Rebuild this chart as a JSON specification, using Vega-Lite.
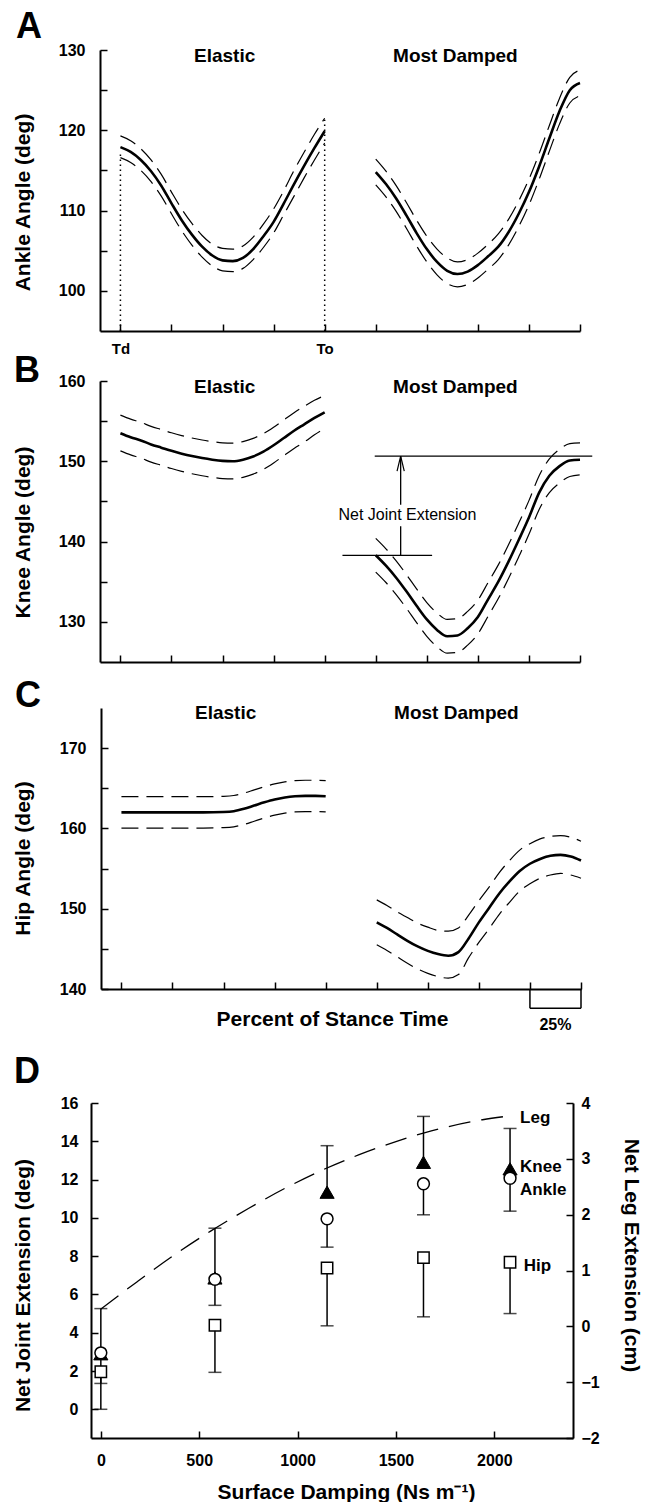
{
"$schema": "https://vega.github.io/schema/vega-lite/v6.json",
"padding": {"left": 11, "top": 9, "right": 12, "bottom": 0},
"config": {
  "font": "Liberation Sans",
  "view": {"stroke": null},
  "axis": {"labelFont": "Liberation Sans", "titleFont": "Liberation Sans", "labelFontWeight": "bold", "titleFontWeight": "bold", "labelColor": "black", "titleColor": "black", "domainColor": "black", "tickColor": "black", "domainWidth": 2, "tickWidth": 1.5, "grid": false, "labelFontSize": 16, "titleFontSize": 21, "labelOverlap": false, "labelFlush": false},
  "text": {"font": "Liberation Sans", "color": "black"},
  "title": {"font": "Liberation Sans", "color": "black", "fontWeight": "bold", "fontSize": 36, "anchor": "start", "frame": "group"}
},
"datasets": {
  "A": [
    {"c":"E","x":0,"m":117.9,"hi":119.3,"lo":116.6},{"c":"E","x":5,"m":117.3,"hi":118.7,"lo":116.0},{"c":"E","x":10,"m":116.3,"hi":117.7,"lo":115.0},{"c":"E","x":15,"m":114.9,"hi":116.3,"lo":113.6},{"c":"E","x":20,"m":113.1,"hi":114.5,"lo":111.8},{"c":"E","x":25,"m":110.9,"hi":112.3,"lo":109.6},{"c":"E","x":30,"m":108.8,"hi":110.2,"lo":107.5},{"c":"E","x":35,"m":107.0,"hi":108.4,"lo":105.7},{"c":"E","x":40,"m":105.5,"hi":106.9,"lo":104.2},{"c":"E","x":45,"m":104.4,"hi":105.8,"lo":103.1},{"c":"E","x":50,"m":103.8,"hi":105.3,"lo":102.5},{"c":"E","x":55,"m":103.7,"hi":105.2,"lo":102.4},{"c":"E","x":60,"m":104.1,"hi":105.6,"lo":102.8},{"c":"E","x":65,"m":105.2,"hi":106.7,"lo":103.9},{"c":"E","x":70,"m":106.8,"hi":108.3,"lo":105.4},{"c":"E","x":75,"m":108.6,"hi":110.2,"lo":107.2},{"c":"E","x":80,"m":110.9,"hi":112.5,"lo":109.5},{"c":"E","x":85,"m":113.3,"hi":115.0,"lo":111.8},{"c":"E","x":90,"m":115.6,"hi":117.3,"lo":114.1},{"c":"E","x":95,"m":117.8,"hi":119.5,"lo":116.3},{"c":"E","x":100,"m":119.9,"hi":121.5,"lo":118.4},
    {"c":"D","x":125,"m":114.8,"hi":116.4,"lo":113.2},{"c":"D","x":130,"m":113.3,"hi":114.9,"lo":111.7},{"c":"D","x":135,"m":111.5,"hi":113.1,"lo":109.9},{"c":"D","x":140,"m":109.4,"hi":111.0,"lo":107.8},{"c":"D","x":145,"m":107.2,"hi":108.8,"lo":105.6},{"c":"D","x":150,"m":105.2,"hi":106.8,"lo":103.6},{"c":"D","x":155,"m":103.6,"hi":105.2,"lo":102.0},{"c":"D","x":160,"m":102.5,"hi":104.1,"lo":100.9},{"c":"D","x":165,"m":102.1,"hi":103.6,"lo":100.5},{"c":"D","x":170,"m":102.4,"hi":103.9,"lo":100.8},{"c":"D","x":175,"m":103.2,"hi":104.7,"lo":101.6},{"c":"D","x":180,"m":104.3,"hi":105.8,"lo":102.7},{"c":"D","x":185,"m":105.5,"hi":107.1,"lo":103.9},{"c":"D","x":190,"m":107.3,"hi":108.9,"lo":105.7},{"c":"D","x":195,"m":109.6,"hi":111.2,"lo":108.0},{"c":"D","x":200,"m":112.3,"hi":113.9,"lo":110.7},{"c":"D","x":205,"m":115.5,"hi":117.1,"lo":113.9},{"c":"D","x":210,"m":119.0,"hi":120.6,"lo":117.4},{"c":"D","x":215,"m":122.4,"hi":124.0,"lo":120.8},{"c":"D","x":220,"m":125.0,"hi":126.6,"lo":123.4},{"c":"D","x":225,"m":125.9,"hi":127.5,"lo":124.3}
  ],
  "B": [
    {"c":"E","x":0,"m":153.5,"hi":155.75,"lo":151.3},{"c":"E","x":5,"m":153.0,"hi":155.25,"lo":150.8},{"c":"E","x":10,"m":152.6,"hi":154.85,"lo":150.4},{"c":"E","x":15,"m":152.1,"hi":154.35,"lo":149.9},{"c":"E","x":20,"m":151.7,"hi":153.95,"lo":149.5},{"c":"E","x":25,"m":151.3,"hi":153.55,"lo":149.1},{"c":"E","x":30,"m":150.95,"hi":153.2,"lo":148.75},{"c":"E","x":35,"m":150.65,"hi":152.9,"lo":148.45},{"c":"E","x":40,"m":150.4,"hi":152.65,"lo":148.2},{"c":"E","x":45,"m":150.2,"hi":152.45,"lo":148.0},{"c":"E","x":50,"m":150.05,"hi":152.3,"lo":147.85},{"c":"E","x":55,"m":150.0,"hi":152.25,"lo":147.8},{"c":"E","x":60,"m":150.2,"hi":152.45,"lo":148.0},{"c":"E","x":65,"m":150.6,"hi":152.85,"lo":148.4},{"c":"E","x":70,"m":151.2,"hi":153.45,"lo":149.0},{"c":"E","x":75,"m":152.0,"hi":154.25,"lo":149.8},{"c":"E","x":80,"m":152.9,"hi":155.15,"lo":150.7},{"c":"E","x":85,"m":153.8,"hi":156.05,"lo":151.6},{"c":"E","x":90,"m":154.6,"hi":156.85,"lo":152.4},{"c":"E","x":95,"m":155.4,"hi":157.6,"lo":153.3},{"c":"E","x":100,"m":156.1,"hi":158.2,"lo":154.1},
    {"c":"D","x":125,"m":138.3,"hi":140.4,"lo":136.2},{"c":"D","x":130,"m":137.0,"hi":139.1,"lo":134.9},{"c":"D","x":135,"m":135.5,"hi":137.6,"lo":133.4},{"c":"D","x":140,"m":133.8,"hi":135.9,"lo":131.7},{"c":"D","x":145,"m":132.0,"hi":134.1,"lo":129.9},{"c":"D","x":150,"m":130.3,"hi":132.4,"lo":128.2},{"c":"D","x":155,"m":129.0,"hi":131.1,"lo":126.9},{"c":"D","x":160,"m":128.2,"hi":130.3,"lo":126.1},{"c":"D","x":165,"m":128.3,"hi":130.4,"lo":126.2},{"c":"D","x":170,"m":129.2,"hi":131.3,"lo":127.1},{"c":"D","x":175,"m":130.6,"hi":132.7,"lo":128.5},{"c":"D","x":180,"m":132.8,"hi":134.9,"lo":130.7},{"c":"D","x":185,"m":135.0,"hi":137.1,"lo":132.9},{"c":"D","x":190,"m":137.5,"hi":139.6,"lo":135.4},{"c":"D","x":195,"m":140.2,"hi":142.3,"lo":138.1},{"c":"D","x":200,"m":143.0,"hi":145.1,"lo":140.9},{"c":"D","x":205,"m":146.1,"hi":148.2,"lo":144.0},{"c":"D","x":210,"m":148.2,"hi":150.3,"lo":146.1},{"c":"D","x":215,"m":149.4,"hi":151.5,"lo":147.3},{"c":"D","x":220,"m":150.1,"hi":152.2,"lo":148.1},{"c":"D","x":225,"m":150.2,"hi":152.3,"lo":148.3}
  ],
  "C": [
    {"c":"E","x":0,"m":162.0,"hi":163.95,"lo":160.05},{"c":"E","x":10,"m":162.0,"hi":163.95,"lo":160.05},{"c":"E","x":20,"m":162.0,"hi":163.95,"lo":160.05},{"c":"E","x":30,"m":162.0,"hi":163.95,"lo":160.05},{"c":"E","x":40,"m":162.0,"hi":163.95,"lo":160.05},{"c":"E","x":50,"m":162.05,"hi":164.0,"lo":160.1},{"c":"E","x":55,"m":162.15,"hi":164.1,"lo":160.2},{"c":"E","x":60,"m":162.45,"hi":164.4,"lo":160.5},{"c":"E","x":65,"m":162.85,"hi":164.8,"lo":160.9},{"c":"E","x":70,"m":163.25,"hi":165.2,"lo":161.3},{"c":"E","x":75,"m":163.6,"hi":165.55,"lo":161.65},{"c":"E","x":80,"m":163.85,"hi":165.8,"lo":161.9},{"c":"E","x":85,"m":164.0,"hi":165.95,"lo":162.05},{"c":"E","x":90,"m":164.05,"hi":166.0,"lo":162.1},{"c":"E","x":95,"m":164.05,"hi":166.0,"lo":162.1},{"c":"E","x":100,"m":164.0,"hi":165.95,"lo":162.05},
    {"c":"D","x":125,"m":148.3,"hi":151.1,"lo":145.5},{"c":"D","x":130,"m":147.6,"hi":150.4,"lo":144.8},{"c":"D","x":135,"m":146.8,"hi":149.6,"lo":144.0},{"c":"D","x":140,"m":146.0,"hi":148.9,"lo":143.2},{"c":"D","x":145,"m":145.3,"hi":148.2,"lo":142.5},{"c":"D","x":150,"m":144.75,"hi":147.7,"lo":141.95},{"c":"D","x":155,"m":144.35,"hi":147.3,"lo":141.55},{"c":"D","x":160,"m":144.15,"hi":147.2,"lo":141.35},{"c":"D","x":165,"m":144.6,"hi":147.6,"lo":141.8},{"c":"D","x":170,"m":146.3,"hi":149.2,"lo":143.9},{"c":"D","x":175,"m":148.3,"hi":151.0,"lo":145.8},{"c":"D","x":180,"m":150.1,"hi":152.7,"lo":147.5},{"c":"D","x":185,"m":151.9,"hi":154.5,"lo":149.3},{"c":"D","x":190,"m":153.4,"hi":156.0,"lo":150.8},{"c":"D","x":195,"m":154.7,"hi":157.3,"lo":152.2},{"c":"D","x":200,"m":155.6,"hi":158.1,"lo":153.1},{"c":"D","x":205,"m":156.2,"hi":158.7,"lo":153.8},{"c":"D","x":210,"m":156.6,"hi":159.0,"lo":154.2},{"c":"D","x":215,"m":156.7,"hi":159.1,"lo":154.4},{"c":"D","x":220,"m":156.5,"hi":158.9,"lo":154.2},{"c":"D","x":225,"m":156.0,"hi":158.4,"lo":153.8}
  ],
  "D": [
    {"s":"Knee","x":0,"v":2.9,"e":5.26},{"s":"Knee","x":580,"v":6.86,"e":9.46},{"s":"Knee","x":1150,"v":11.34,"e":13.77},{"s":"Knee","x":1640,"v":12.9,"e":15.3},{"s":"Knee","x":2080,"v":12.56,"e":14.67},
    {"s":"Ankle","x":0,"v":2.95,"e":1.35},{"s":"Ankle","x":580,"v":6.79,"e":5.43},{"s":"Ankle","x":1150,"v":9.95,"e":8.47},{"s":"Ankle","x":1640,"v":11.78,"e":10.16},{"s":"Ankle","x":2080,"v":12.07,"e":10.35},
    {"s":"Hip","x":0,"v":1.96,"e":0.0},{"s":"Hip","x":580,"v":4.39,"e":1.93},{"s":"Hip","x":1150,"v":7.38,"e":4.36},{"s":"Hip","x":1640,"v":7.92,"e":4.83},{"s":"Hip","x":2080,"v":7.68,"e":5.0}
  ],
  "leg": [
    {"x":0,"y":0.31},{"x":185,"y":0.8},{"x":370,"y":1.27},{"x":560,"y":1.71},{"x":750,"y":2.11},{"x":935,"y":2.47},{"x":1120,"y":2.79},{"x":1310,"y":3.07},{"x":1500,"y":3.31},{"x":1680,"y":3.5},{"x":1940,"y":3.7},{"x":2080,"y":3.77}
  ],
  "none": []
},
"columns": 2,
"spacing": {"row": -3, "column": 0},
"align": "none",
"bounds": "full",
"concat": [
  {"width": 1, "height": 1, "data": {"name": "none"}, "mark": "point"},
  {
    "title": {"text": "A", "dx": -84, "offset": -4},
    "width": 480, "height": 281,
    "data": {"name": "A"},
    "encoding": {
      "x": {"field": "x", "type": "quantitative", "scale": {"domain": [-10, 225], "nice": false, "zero": false},
        "axis": {"values": [0,25,50,75,100,125,150,175,200,225], "tickSize": -7, "labelExpr": "datum.value == 0 ? 'Td' : datum.value == 100 ? 'To' : ''", "labelPadding": 17, "labelFontSize": 15, "title": null}},
      "y": {"field": "y", "type": "quantitative", "scale": {"domain": [95, 130], "nice": false, "zero": false},
        "axis": {"values": [100,105,110,115,120,125,130], "labelExpr": "datum.value % 10 == 0 ? datum.label : ''", "tickSize": -7, "labelPadding": 22, "title": "Ankle Angle (deg)", "titleX": -77, "titleY": 152, "titleAngle": 270, "titleBaseline": "middle", "titleAlign": "center"}}
    },
    "layer": [
      {"transform": [{"fold": ["hi", "lo"], "as": ["k", "y"]}], "mark": {"type": "line", "color": "black", "strokeWidth": 1.2, "strokeDash": [17, 8], "interpolate": "monotone"}, "encoding": {"detail": [{"field": "c"}, {"field": "k"}]}},
      {"transform": [{"fold": ["m"], "as": ["k", "y"]}], "mark": {"type": "line", "color": "black", "strokeWidth": 2.6, "interpolate": "monotone"}, "encoding": {"detail": {"field": "c"}}},
      {"data": {"values": [{"x": 0, "y": 95, "y2": 117}, {"x": 100, "y": 95, "y2": 121.3}]}, "mark": {"type": "rule", "color": "black", "strokeWidth": 1.5, "strokeDash": [1.5, 3.5]}, "encoding": {"y2": {"field": "y2"}}},
      {"data": {"values": [{"x": 51, "y": 129.2, "t": "Elastic"}, {"x": 164, "y": 129.2, "t": "Most Damped"}]}, "mark": {"type": "text", "fontSize": 19, "fontWeight": "bold", "align": "center", "baseline": "middle"}, "encoding": {"text": {"field": "t"}}}
    ]
  },
  {"width": 1, "height": 1, "data": {"name": "none"}, "mark": "point"},
  {
    "title": {"text": "B", "dx": -86, "offset": -17},
    "width": 480, "height": 281,
    "data": {"name": "B"},
    "encoding": {
      "x": {"field": "x", "type": "quantitative", "scale": {"domain": [-10, 225], "nice": false, "zero": false},
        "axis": {"values": [0,25,50,75,100,125,150,175,200,225], "tickSize": -7, "labels": false, "title": " ", "titleFontSize": 10, "titlePadding": 7}},
      "y": {"field": "y", "type": "quantitative", "scale": {"domain": [125, 160], "nice": false, "zero": false},
        "axis": {"values": [130,135,140,145,150,155,160], "labelExpr": "datum.value % 10 == 0 ? datum.label : ''", "tickSize": -7, "labelPadding": 22, "title": "Knee Angle (deg)", "titleX": -77, "titleY": 151, "titleAngle": 270, "titleBaseline": "middle", "titleAlign": "center"}}
    },
    "layer": [
      {"transform": [{"fold": ["hi", "lo"], "as": ["k", "y"]}], "mark": {"type": "line", "color": "black", "strokeWidth": 1.2, "strokeDash": [17, 8], "interpolate": "monotone"}, "encoding": {"detail": [{"field": "c"}, {"field": "k"}]}},
      {"transform": [{"fold": ["m"], "as": ["k", "y"]}], "mark": {"type": "line", "color": "black", "strokeWidth": 2.6, "interpolate": "monotone"}, "encoding": {"detail": {"field": "c"}}},
      {"data": {"values": [{"x": 124.5, "x2": 231, "y": 150.64}, {"x": 108.7, "x2": 152.6, "y": 138.27}]}, "mark": {"type": "rule", "color": "black", "strokeWidth": 1.3}, "encoding": {"x2": {"field": "x2"}}},
      {"data": {"values": [{"x": 137.2, "y": 138.27, "y2": 141.9}, {"x": 137.2, "y": 144.6, "y2": 150.64}]}, "mark": {"type": "rule", "color": "black", "strokeWidth": 1.3}, "encoding": {"y2": {"field": "y2"}}},
      {"data": {"values": [{"x": 137.2, "y": 150.64}]}, "mark": {"type": "point", "shape": "M-1.2,5L0,0L1.2,5", "size": 36, "filled": false, "stroke": "black", "strokeWidth": 1.2, "opacity": 1}},
      {"data": {"values": [{"x": 140.5, "y": 143.3, "t": "Net Joint Extension"}]}, "mark": {"type": "text", "fontSize": 16, "align": "center", "baseline": "middle"}, "encoding": {"text": {"field": "t"}}},
      {"data": {"values": [{"x": 51, "y": 159.3, "t": "Elastic"}, {"x": 164, "y": 159.3, "t": "Most Damped"}]}, "mark": {"type": "text", "fontSize": 19, "fontWeight": "bold", "align": "center", "baseline": "middle"}, "encoding": {"text": {"field": "t"}}}
    ]
  },
  {"width": 1, "height": 1, "data": {"name": "none"}, "mark": "point"},
  {
    "title": {"text": "C", "dx": -86, "offset": -11},
    "width": 480, "height": 281,
    "data": {"name": "C"},
    "encoding": {
      "x": {"field": "x", "type": "quantitative", "scale": {"domain": [-10, 225], "nice": false, "zero": false},
        "axis": {"values": [0,25,50,75,100,125,150,175,200,225], "tickSize": -7, "labels": false, "title": ["Percent of Stance Time", " "], "titleLineHeight": 27, "titlePadding": 19, "titleX": 231, "titleAlign": "center"}},
      "y": {"field": "y", "type": "quantitative", "scale": {"domain": [140, 175], "nice": false, "zero": false},
        "axis": {"values": [140,145,150,155,160,165,170], "labelExpr": "datum.value % 10 == 0 ? datum.label : ''", "tickSize": -7, "labelPadding": 22, "title": "Hip Angle (deg)", "titleX": -78, "titleY": 150, "titleAngle": 270, "titleBaseline": "middle", "titleAlign": "center"}}
    },
    "layer": [
      {"transform": [{"fold": ["hi", "lo"], "as": ["k", "y"]}], "mark": {"type": "line", "color": "black", "strokeWidth": 1.2, "strokeDash": [17, 8], "interpolate": "monotone"}, "encoding": {"detail": [{"field": "c"}, {"field": "k"}]}},
      {"transform": [{"fold": ["m"], "as": ["k", "y"]}], "mark": {"type": "line", "color": "black", "strokeWidth": 2.6, "interpolate": "monotone"}, "encoding": {"detail": {"field": "c"}}},
      {"data": {"values": [{"x": 200, "x2": 225, "y": 137.6}]}, "mark": {"type": "rule", "color": "black", "strokeWidth": 1.5}, "encoding": {"x2": {"field": "x2"}}},
      {"data": {"values": [{"x": 200, "y": 140, "y2": 137.6}, {"x": 225, "y": 140, "y2": 137.6}]}, "mark": {"type": "rule", "color": "black", "strokeWidth": 1.5}, "encoding": {"y2": {"field": "y2"}}},
      {"data": {"values": [{"x": 212.5, "y": 135.55, "t": "25%"}]}, "mark": {"type": "text", "fontSize": 16, "fontWeight": "bold", "align": "center", "baseline": "middle"}, "encoding": {"text": {"field": "t"}}},
      {"data": {"values": [{"x": 51, "y": 174.4, "t": "Elastic"}, {"x": 164, "y": 174.4, "t": "Most Damped"}]}, "mark": {"type": "text", "fontSize": 19, "fontWeight": "bold", "align": "center", "baseline": "middle"}, "encoding": {"text": {"field": "t"}}}
    ]
  },
  {"width": 1, "height": 1, "data": {"name": "none"}, "mark": "point"},
  {
    "title": {"text": "D", "dx": -77, "offset": 4},
    "width": 482, "height": 335,
    "data": {"name": "D"},
    "resolve": {"scale": {"y": "independent"}},
    "encoding": {
      "x": {"field": "x", "type": "quantitative", "scale": {"domain": [-50, 2400], "nice": false, "zero": false},
        "axis": {"values": [0,500,1000,1500,2000], "format": "d", "tickSize": -7, "labelPadding": 21, "labelFontSize": 16, "title": "Surface Damping (Ns m⁻¹)", "titleX": 255, "titlePadding": 13, "titleAlign": "center"}}
    },
    "layer": [
      {"mark": {"type": "rule", "color": "black", "strokeWidth": 1.5},
       "encoding": {"y": {"field": "v", "type": "quantitative", "scale": {"domain": [-1.5, 16], "nice": false, "zero": false},
            "axis": {"orient": "left", "values": [0,2,4,6,8,10,12,14,16], "tickSize": -7, "labelPadding": 20, "labelFontSize": 16, "title": "Net Joint Extension (deg)", "titleX": -68, "titleY": 182, "titleAngle": 270, "titleBaseline": "middle", "titleAlign": "center"}},
         "y2": {"field": "e"}}},
      {"mark": {"type": "tick", "orient": "horizontal", "size": 13, "thickness": 1.5, "color": "black"},
       "encoding": {"y": {"field": "e", "type": "quantitative", "scale": {"domain": [-1.5, 16], "nice": false, "zero": false}, "axis": null}}},
      {"transform": [{"filter": "datum.s == 'Hip'"}], "mark": {"type": "point", "shape": "square", "size": 128, "filled": true, "fill": "white", "stroke": "black", "strokeWidth": 1.5, "opacity": 1},
       "encoding": {"y": {"field": "v", "type": "quantitative", "scale": {"domain": [-1.5, 16], "nice": false, "zero": false}, "axis": null}}},
      {"transform": [{"filter": "datum.s == 'Knee'"}], "mark": {"type": "point", "shape": "triangle-up", "size": 200, "filled": true, "fill": "black", "stroke": "black", "strokeWidth": 1, "opacity": 1},
       "encoding": {"y": {"field": "v", "type": "quantitative", "scale": {"domain": [-1.5, 16], "nice": false, "zero": false}, "axis": null}}},
      {"transform": [{"filter": "datum.s == 'Ankle'"}], "mark": {"type": "point", "shape": "circle", "size": 140, "filled": true, "fill": "white", "stroke": "black", "strokeWidth": 1.5, "opacity": 1},
       "encoding": {"y": {"field": "v", "type": "quantitative", "scale": {"domain": [-1.5, 16], "nice": false, "zero": false}, "axis": null}}},
      {"data": {"values": [{"x": 2131, "v": 15.23, "t": "Leg"}, {"x": 2131, "v": 12.64, "t": "Knee"}, {"x": 2131, "v": 11.43, "t": "Ankle"}, {"x": 2150, "v": 7.47, "t": "Hip"}]},
       "mark": {"type": "text", "fontSize": 17, "fontWeight": "bold", "align": "left", "baseline": "middle"},
       "encoding": {"y": {"field": "v", "type": "quantitative", "scale": {"domain": [-1.5, 16], "nice": false, "zero": false}, "axis": null}, "text": {"field": "t"}}},
      {"data": {"name": "leg"},
       "mark": {"type": "line", "color": "black", "strokeWidth": 1.3, "strokeDash": [22, 11], "interpolate": "monotone"},
       "encoding": {"y": {"field": "y", "type": "quantitative", "scale": {"domain": [-2, 4], "nice": false, "zero": false},
            "axis": {"orient": "right", "values": [-2,-1,0,1,2,3,4], "tickSize": -7, "labelPadding": 15, "labelFontSize": 16, "title": "Net Leg Extension (cm)", "titleAngle": 90, "titleX": 57, "titleY": 152, "titleBaseline": "middle", "titleAlign": "center"}}}}
    ]
  }
]
}
